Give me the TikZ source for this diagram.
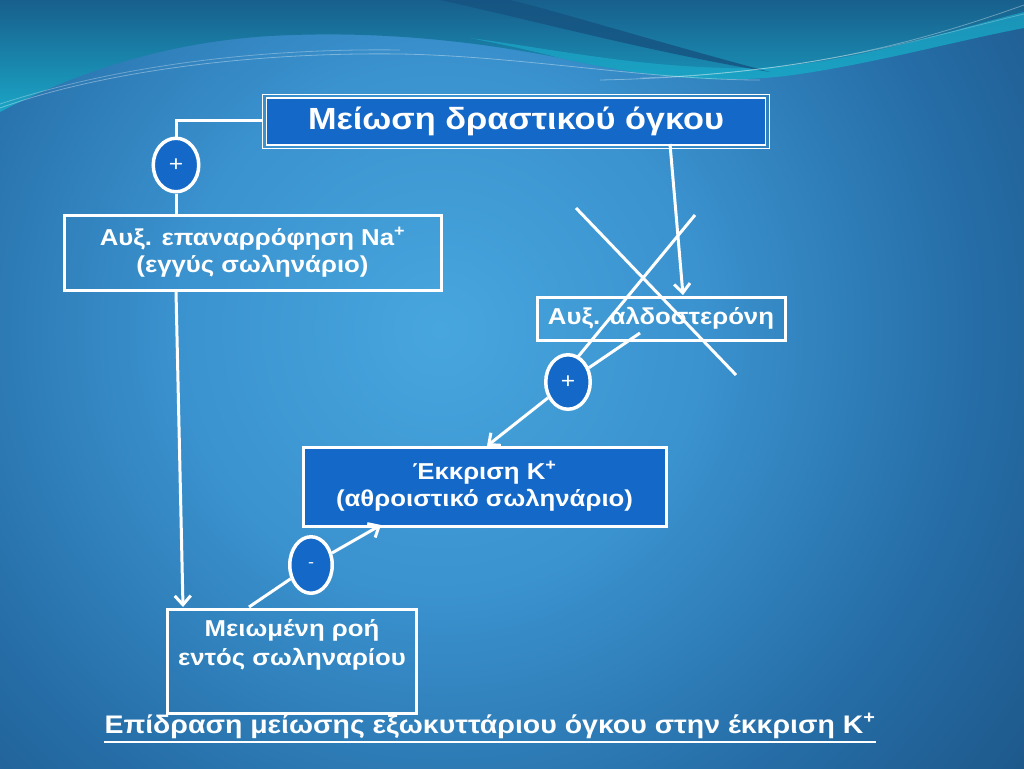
\documentclass[tikz,border=0pt]{standalone}
\usepackage{fontspec}
\setmainfont[FakeStretch=1.12]{Liberation Sans}
\usetikzlibrary{arrows.meta,shapes.geometric}
\definecolor{boxblue}{RGB}{20,105,200}
\definecolor{bgc0}{RGB}{72,166,222}
\definecolor{bgc1}{RGB}{58,146,206}
\definecolor{bgc2}{RGB}{38,110,168}
\definecolor{bgc3}{RGB}{27,82,130}
\definecolor{bgc4}{RGB}{20,62,102}
\definecolor{bgc5}{RGB}{16,52,88}
\definecolor{tealtop}{RGB}{24,95,140}
\definecolor{tealbot}{RGB}{26,165,198}
\definecolor{swoosh}{RGB}{22,84,130}
\definecolor{lightteal}{RGB}{28,172,204}
\pgfdeclareradialshading{bgshade}{\pgfpoint{0bp}{0bp}}{color(0bp)=(bgc0); color(10bp)=(bgc1); color(20bp)=(bgc2); color(30bp)=(bgc3); color(40bp)=(bgc4); color(50bp)=(bgc5)}
\begin{document}
\begin{tikzpicture}[x=1pt,y=-1pt,
  box/.style={draw=white, line width=3pt, inner sep=0pt, text=white,
    font=\bfseries\fontsize{23}{27}\selectfont, align=center},
  filledbox/.style={box, fill=boxblue},
  sign/.style={ellipse, draw=white, line width=3.5pt, fill=boxblue, inner sep=0pt,
    text=white, font=\fontsize{22}{22}\selectfont},
  conn/.style={draw=white, line width=3pt},
  arr/.style={conn, -{Straight Barb[length=9pt,width=16pt]}},
  txt/.style={text=white, inner sep=0pt, align=center}
]
\useasboundingbox (0,0) rectangle (1024,768);
\clip (0,0) rectangle (1024,768);
% background
\shade[shading=bgshade] (-220,-330) rectangle (1100,990);
% top wave
\shade[top color=tealtop, bottom color=tealbot]
  (0,0) -- (1024,0) -- (1024,28)
  .. controls (960,40) and (880,62) .. (800,74)
  .. controls (720,86) and (640,76) .. (560,58)
  .. controls (480,42) and (380,30) .. (270,36)
  .. controls (170,42) and (80,70) .. (0,112) -- cycle;
\fill[lightteal, opacity=0.65]
  (470,38) .. controls (560,50) and (650,70) .. (760,68)
  .. controls (860,62) and (950,30) .. (1024,12) -- (1024,28)
  .. controls (960,40) and (880,62) .. (800,74)
  .. controls (720,86) and (640,76) .. (560,58)
  .. controls (530,50) and (500,44) .. (470,38) -- cycle;
\fill[swoosh, opacity=0.85]
  (440,0) .. controls (540,22) and (650,52) .. (770,72)
  .. controls (650,40) and (560,12) .. (510,0) -- cycle;
\draw[white, opacity=0.35, line width=0.8pt]
  (0,108) .. controls (100,72) and (250,52) .. (400,54)
  .. controls (520,56) and (650,80) .. (760,80);
\draw[white, opacity=0.3, line width=0.8pt]
  (0,104) .. controls (110,68) and (250,48) .. (400,50);
\draw[white, opacity=0.35, line width=0.8pt]
  (600,80) .. controls (800,76) and (920,42) .. (1024,5);
\draw[white, opacity=0.25, line width=0.8pt]
  (640,78) .. controls (820,72) and (930,36) .. (1024,14);

% boxes
\node[draw=white, line width=1.5pt, minimum width=507pt, minimum height=54pt] (topout) at (516,121.5) {};
\node[draw=white, line width=1.5pt, fill=boxblue, minimum width=499pt, minimum height=47pt,
  text=white, font=\bfseries\fontsize{30.6}{34}\selectfont] (top) at (516,121.5) {Μείωση δραστικού όγκου};
\node[box, minimum width=377pt, minimum height=75pt] (na) at (252.5,252.5)
  {Αυξ. επαναρρόφηση Na\textsuperscript{+}\\(εγγύς σωληνάριο)};
\node[box, minimum width=248pt, minimum height=43pt] (aldo) at (661,318.5)
  {Αυξ. αλδοστερόνη};
\node[filledbox, minimum width=363pt, minimum height=79pt] (ekk) at (484.5,486.5)
  {Έκκριση K\textsuperscript{+}\\(αθροιστικό σωληνάριο)};
\node[box, minimum width=249pt, minimum height=104pt] (flow) at (292.3,661) {};
\node[txt, font=\bfseries\fontsize{23}{29.7}\selectfont] (flowtxt) at (292,645)
  {Μειωμένη ροή\\εντός σωληναρίου};

% sign circles
\node[sign, minimum width=45.5pt, minimum height=53.5pt] (s1) at (176,165) {+};
\node[sign, minimum width=44.5pt, minimum height=54.5pt] (s2) at (568,382) {+};
\node[sign, minimum width=42.5pt, minimum height=56.5pt, font=\fontsize{16}{16}\selectfont] (s3) at (311,565) {-};

% connector points
\coordinate (c1) at (176,120);
\coordinate (c2) at (183,607);
\coordinate (c3) at (249,607);
\coordinate (c4) at (381,525);
\coordinate (c5) at (670,144);
\coordinate (c6) at (683,295);
\coordinate (c7) at (640,333);
\coordinate (c8) at (487,446);

\draw[conn] (topout.west |- c1) -- (c1) -- (s1);
\draw[conn] (s1) -- (s1.south |- na.north);
\draw[arr] (na.south -| s1) -- (c2);
\draw[conn] (c3) -- (s3);
\draw[arr] (s3) -- (c4);
\draw[arr] (c5) -- (c6);
\draw[conn] (c7) -- (s2);
\draw[arr] (s2) -- (c8);

% strike-through cross
\coordinate (x1a) at (576,208);
\coordinate (x1b) at (736,375);
\coordinate (x2a) at (695,215);
\coordinate (x2b) at (577,358);
\draw[conn] (x1a) -- (x1b);
\draw[conn] (x2a) -- (x2b);

% title
\node[txt, anchor=base, font=\bfseries\fontsize{25.4}{30}\selectfont] (title) at (490,733)
  {Επίδραση μείωσης εξωκυττάριου όγκου στην έκκριση K\textsuperscript{+}};
\draw[white, line width=2.2pt] ([yshift=-8.7pt]title.base west) -- ([yshift=-8.7pt]title.base east);
\end{tikzpicture}
\end{document}
